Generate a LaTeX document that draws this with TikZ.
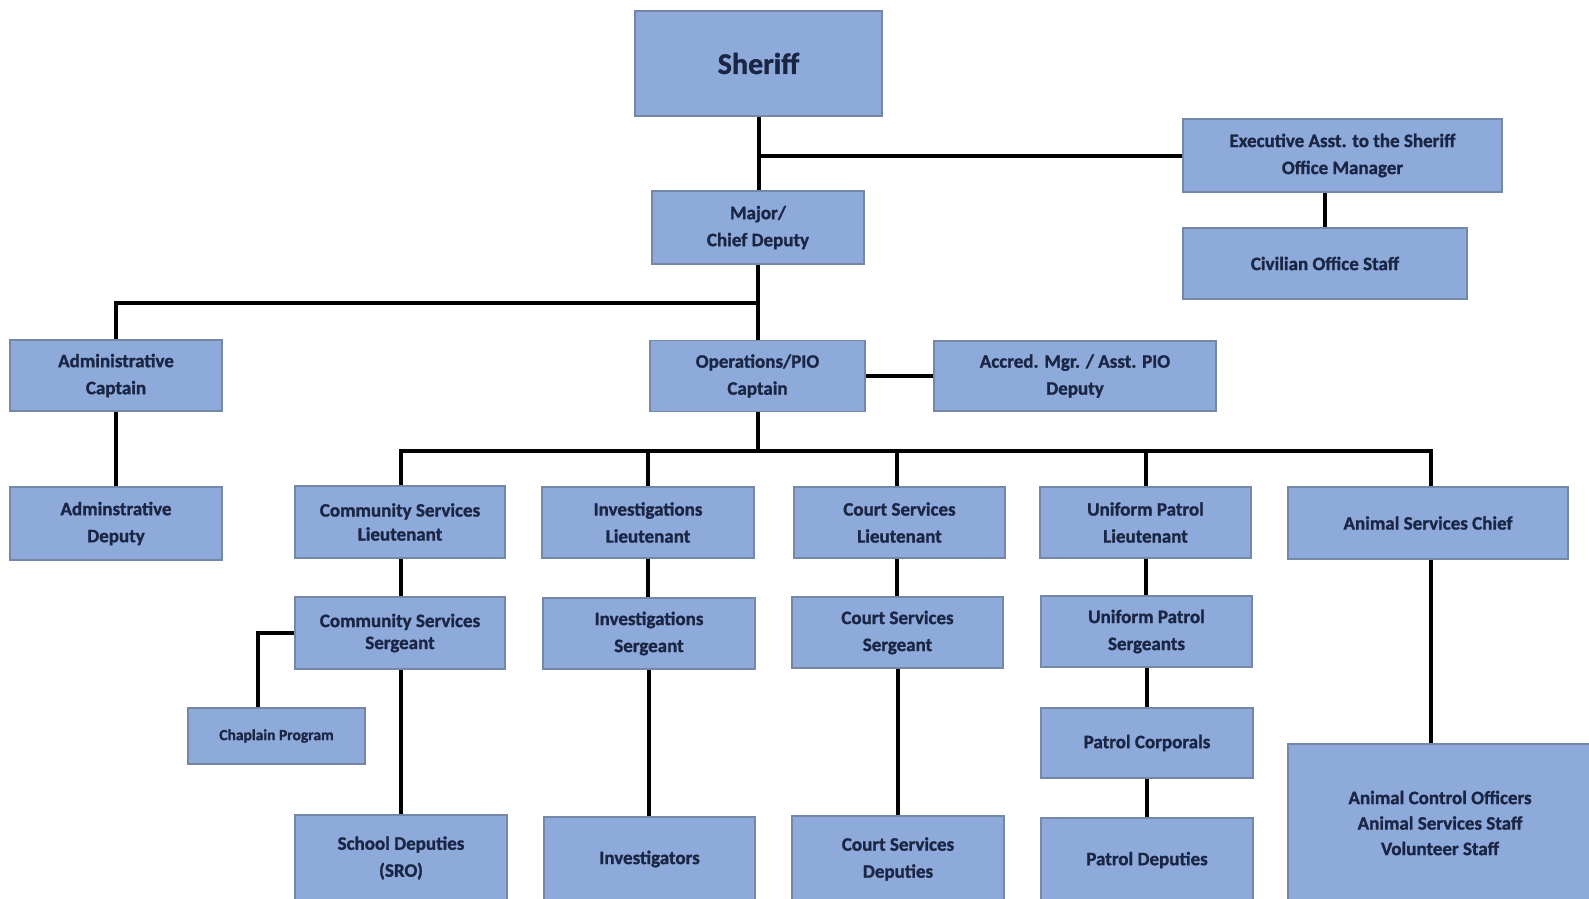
\documentclass[tikz,border=0pt]{standalone}
\usepackage{fontspec}
\setmainfont{Carlito}[BoldFont={Carlito Bold}, BoldFeatures={FakeBold=1.2}]
\definecolor{boxfill}{HTML}{8EAADB}
\definecolor{boxline}{HTML}{7688A8}
\definecolor{txt}{HTML}{1B2544}
\begin{document}
\begin{tikzpicture}[x=1pt,y=-1pt,
  box/.style={draw=boxline, line width=1.6pt, fill=boxfill, inner sep=0pt,
    align=center, text=txt, font=\fontsize{19}{27}\selectfont\bfseries},
  tight/.style={font=\fontsize{19}{24}\selectfont\bfseries},
  link/.style={line width=4pt, draw=black}]
\clip (0,0) rectangle (1589,898);
\fill[white] (0,0) rectangle (1589,898);
% nodes
\node[box, minimum width=247, minimum height=105, font=\fontsize{30}{36}\selectfont\bfseries] (sheriff) at (758.5,63.5) {Sheriff};
\node[box, minimum width=319, minimum height=73] (exec) at (1342.5,155.5) {Executive Asst. to the Sheriff\\Office Manager};
\node[box, minimum width=284, minimum height=71] (civ) at (1325,263.5) {Civilian Office Staff};
\node[box, minimum width=212, minimum height=73] (major) at (758,227.5) {Major/\\Chief Deputy};
\node[box, minimum width=212, minimum height=71] (admcap) at (116,375.5) {Administrative\\Captain};
\node[box, minimum width=215, minimum height=71] (ops) at (757.5,376) {Operations/PIO\\Captain};
\node[box, minimum width=282, minimum height=70] (accred) at (1075,376) {Accred. Mgr. / Asst. PIO\\Deputy};
\node[box, minimum width=212, minimum height=73] (admdep) at (116,523.5) {Adminstrative\\Deputy};
\node[box, tight, minimum width=210, minimum height=72] (cslt) at (400,522) {Community Services\\Lieutenant};
\node[box, minimum width=212, minimum height=71] (invlt) at (648,522.5) {Investigations\\Lieutenant};
\node[box, minimum width=211, minimum height=71] (courtlt) at (899.5,522.5) {Court Services\\Lieutenant};
\node[box, minimum width=211, minimum height=71] (uplt) at (1145.5,522.5) {Uniform Patrol\\Lieutenant};
\node[box, minimum width=280, minimum height=72] (aschief) at (1428,523) {Animal Services Chief};
\node[box, minimum width=210, minimum height=72, font=\fontsize{19}{22}\selectfont\bfseries] (cssgt) at (400,633) {Community Services\\Sergeant};
\node[box, minimum width=212, minimum height=71] (invsgt) at (649,633.5) {Investigations\\Sergeant};
\node[box, minimum width=211, minimum height=71] (courtsgt) at (897.5,632.5) {Court Services\\Sergeant};
\node[box, minimum width=211, minimum height=71] (upsgt) at (1146.5,631.5) {Uniform Patrol\\Sergeants};
\node[box, minimum width=177, minimum height=56, font=\fontsize{15.5}{18}\selectfont\bfseries] (chaplain) at (276.5,736) {Chaplain Program};
\node[box, minimum width=212, minimum height=70] (corporals) at (1147,743) {Patrol Corporals};
\node[box, minimum width=212, minimum height=86] (school) at (401,858) {School Deputies\\(SRO)};
\node[box, minimum width=211, minimum height=84] (investigators) at (649.5,859) {Investigators};
\node[box, minimum width=212, minimum height=86] (courtdep) at (898,859) {Court Services\\Deputies};
\node[box, minimum width=212, minimum height=84] (patroldep) at (1147,860) {Patrol Deputies};
\node[box, minimum width=304, minimum height=158, font=\fontsize{19}{25.5}\selectfont\bfseries] (animal) at (1440,823) {Animal Control Officers\\Animal Services Staff\\Volunteer Staff};
% junctions
\coordinate (j1) at (757,303);
\coordinate (j2) at (757,451);
% connectors
\draw[link] (sheriff.south) -- (sheriff.south |- major.north);
\draw[link] (exec.west) -- (exec.west -| sheriff.south);
\draw[link] (civ.north) -- (civ.north |- exec.south);
\draw[link] (major.south) -- (major.south |- ops.north);
\draw[link] (admcap.north) |- (j1);
\draw[link] (admcap.south) -- (admdep.north);
\draw[link] (ops.east) -- (accred.west);
\draw[link] (ops.south) -- (ops.south |- j2);
\draw[link] ([xshift=1pt]cslt.north) |- (j2) -| ([xshift=3pt]aschief.north);
\draw[link] (invlt.north) -- (invlt.north |- j2);
\draw[link] ([xshift=-2.5pt]courtlt.north) -- ([xshift=-2.5pt]courtlt.north |- j2);
\draw[link] (uplt.north) -- (uplt.north |- j2);
\draw[link] ([xshift=1pt]cslt.south) -- ([xshift=1pt]cslt.south |- cssgt.north);
\draw[link] ([xshift=1pt]cssgt.south) -- ([xshift=1pt]cssgt.south |- school.north);
\draw[link] (cssgt.west) -| ([xshift=-18.5pt]chaplain.north);
\draw[link] (invlt.south) -- (invlt.south |- invsgt.north);
\draw[link] (invsgt.south) -- (invsgt.south |- investigators.north);
\draw[link] ([xshift=-2.5pt]courtlt.south) -- ([xshift=-2.5pt]courtlt.south |- courtsgt.north);
\draw[link] (courtsgt.south) -- (courtsgt.south |- courtdep.north);
\draw[link] (uplt.south) -- (uplt.south |- upsgt.north);
\draw[link] (upsgt.south) -- (upsgt.south |- corporals.north);
\draw[link] (corporals.south) -- (corporals.south |- patroldep.north);
\draw[link] ([xshift=3pt]aschief.south) -- ([xshift=3pt]aschief.south |- animal.north);
\end{tikzpicture}
\end{document}
